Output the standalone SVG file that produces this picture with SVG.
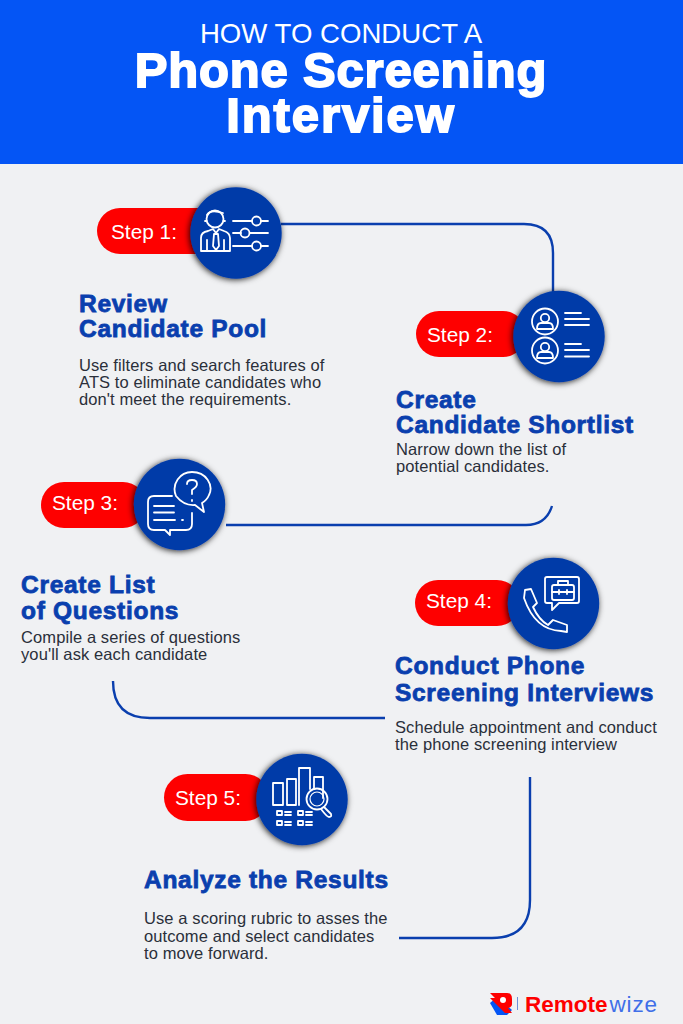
<svg xmlns="http://www.w3.org/2000/svg" width="683" height="1024" viewBox="0 0 683 1024">
<style>
text{font-family:"Liberation Sans",Arial,sans-serif}
.pill{fill:#fe0000}
.circ{fill:#033ba8;filter:url(#sh)}
.step{fill:#fff;font-size:20.800px}
.h{fill:#0a3fae;font-size:24.500px;font-weight:700;stroke:#0a3fae;stroke-width:.8px;letter-spacing:.7px}
.b{fill:#2a2f3a;font-size:16.500px;letter-spacing:.1px}
.ic{fill:none;stroke:#fff;stroke-width:1.800;stroke-linecap:round;stroke-linejoin:round}
.c{fill:none;stroke:#0a3fae;stroke-width:2.400}
.t{fill:#fff;text-anchor:middle}
</style>
<defs>
<filter id="sh" x="-30%" y="-30%" width="160%" height="160%"><feDropShadow dx="-1" dy="1" stdDeviation="3" flood-color="#000" flood-opacity=".85"/></filter>
</defs>
<rect width="683" height="1024" fill="#f0f1f3"/>
<rect width="683" height="164" fill="#0455f5"/>
<g id="title">
<text class="t" x="341" y="43" font-size="27.600">HOW TO CONDUCT A</text>
<text class="t" x="341" y="87" font-size="49" font-weight="700" stroke="#fff" stroke-width="1.800" letter-spacing=".8">Phone Screening</text>
<text class="t" x="341" y="132" font-size="49" font-weight="700" stroke="#fff" stroke-width="1.800" letter-spacing="1.900">Interview</text>
</g>
<g id="connectors">
<path class="c" d="M281 224H524Q553 224 553 253V292"/>
<path class="c" d="M226 525H526Q546 525 552 506"/>
<path class="c" d="M113 681Q113 718 150 718H385"/>
<path class="c" d="M530 777V900Q530 938 492 938H399"/>
</g>
<g id="step1">
<rect class="pill" x="97" y="208" width="130" height="46" rx="23"/>
<circle class="circ" cx="236" cy="233" r="45.700"/>
<text class="step" x="111" y="239">Step 1:</text>
<g class="ic">
<circle cx="215" cy="219" r="8.500"/><path d="M207 215Q210 209 223 213M206.500 221H205M223.500 221H225"/>
<path d="M201 251V238Q201 232 208 231L213 229L216 233L219 229L224 231Q230 233 230 238V251ZM207 240V251M224 240V251M214 234H218L219 246L216 250L213 246Z"/>
<path d="M233 221H252M261 221H268M233 233H241M250 233H268M233 246H252M261 246H268"/>
<circle cx="256.500" cy="221" r="4.500"/><circle cx="245" cy="233" r="4.500"/><circle cx="256.500" cy="246" r="4.500"/>
</g>
</g>
<g id="step2">
<rect class="pill" x="416" y="311" width="110" height="46" rx="23"/>
<circle class="circ" cx="559" cy="336.500" r="45.700"/>
<text class="step" x="427" y="342">Step 2:</text>
<g class="ic">
<circle cx="545" cy="321.500" r="13"/><circle cx="545" cy="318" r="4.200"/><path d="M537 329Q537 323 541 323H549Q553 323 553 329Z"/>
<circle cx="545" cy="350.500" r="13"/><circle cx="545" cy="347" r="4.200"/><path d="M537 358Q537 352 541 352H549Q553 352 553 358Z"/>
<path d="M565 313H581M565 319H589M565 325H589M565 344H581M565 350H589M565 356.500H589"/>
</g>
</g>
<g id="step3">
<rect class="pill" x="41" y="482" width="105" height="46" rx="23"/>
<circle class="circ" cx="179.500" cy="504.500" r="45.700"/>
<text class="step" x="52" y="510">Step 3:</text>
<g class="ic">
<path d="M176 496C171 484 180 472 192 472C206 472 214 485 209 495Q207 500 202 503L204 512L195 505Q184 506 176 496Z"/>
<path d="M187 484Q187 480 192 480Q197 480 197 484Q197 487 192 490V494M192 500V501"/>
<path d="M172 496H154Q148 496 148 502V524Q148 530 154 530H165L170 535V530H186Q192 530 192 524V513"/>
<path d="M154 506H174M154 512.500H174M154 520H175M182 520H183"/>
</g>
</g>
<g id="step4">
<rect class="pill" x="415" y="580" width="105" height="46" rx="23"/>
<circle class="circ" cx="553.500" cy="603.500" r="45.700"/>
<text class="step" x="426" y="608">Step 4:</text>
<g class="ic">
<path d="M547 577H577Q579 577 579 579V601Q579 603 577 603H559L552 610V603H547Q545 603 545 601V579Q545 577 547 577Z"/>
<rect x="552" y="585" width="22" height="15" rx="2"/><path d="M558 585V581H568V585M552 592H574M559 590V594M567 590V594"/>
<path d="M525 590L531 589L537 603L533 607Q539 620 548 625L553 620L567 625L567 632L561 631Q535 630 524 598Z"/>
</g>
</g>
<g id="step5">
<rect class="pill" x="164" y="774" width="105" height="47" rx="23.500"/>
<circle class="circ" cx="302" cy="799.500" r="45.700"/>
<text class="step" x="175" y="805">Step 5:</text>
<g class="ic">
<path d="M273 783H283V805H273ZM287 779H296V805H287ZM299 805V768H310V789M314 789V777H323V798"/>
<circle cx="317" cy="799" r="10.500"/><circle cx="317" cy="799" r="7" stroke-width="1.200"/><path d="M324 807L331 814Q332 817 329 817Q327 817 321 809"/>
<path d="M277 811H282V815H277ZM285 812H291M285 815H291M277 821H282V825H277ZM285 822H291M285 825H291M298 811H303V815H298ZM306 812H312M306 815H312M298 821H303V825H298ZM306 822H312M306 825H312"/>
</g>
</g>
<g id="text1">
<text class="h" x="79" y="311.500">Review</text>
<text class="h" x="79" y="337">Candidate Pool</text>
<text class="b" x="79" y="371">Use filters and search features of</text>
<text class="b" x="79" y="388">ATS to eliminate candidates who</text>
<text class="b" x="79" y="405">don't meet the requirements.</text>
</g>
<g id="text2">
<text class="h" x="396" y="408">Create</text>
<text class="h" x="396" y="433">Candidate Shortlist</text>
<text class="b" x="396" y="455">Narrow down the list of</text>
<text class="b" x="396" y="472">potential candidates.</text>
</g>
<g id="text3">
<text class="h" x="21" y="593">Create List</text>
<text class="h" x="21" y="619">of Questions</text>
<text class="b" x="21" y="643">Compile a series of questions</text>
<text class="b" x="21" y="660">you'll ask each candidate</text>
</g>
<g id="text4">
<text class="h" x="395" y="674">Conduct Phone</text>
<text class="h" x="395" y="701">Screening Interviews</text>
<text class="b" x="395" y="733">Schedule appointment and conduct</text>
<text class="b" x="395" y="750">the phone screening interview</text>
</g>
<g id="text5">
<text class="h" x="144" y="888">Analyze the Results</text>
<text class="b" x="144" y="924">Use a scoring rubric to asses the</text>
<text class="b" x="144" y="942">outcome and select candidates</text>
<text class="b" x="144" y="959">to move forward.</text>
</g>
<g id="logo">
<path d="M490 1003L497 997L512 1010L507 1015H497Z" fill="#0455f5"/>
<path d="M490 993H507Q512 993 512 999V1004Q512 1007 508 1008L512 1013L505 1013L490 998L495 998Z" fill="#fe0000"/>
<circle cx="503" cy="1000" r="3" fill="#fff"/>
<rect x="517" y="997" width="1" height="13" fill="#6f8fd8"/>
<text x="525" y="1012" font-size="22.500"><tspan fill="#fe0000" font-weight="700">Remote</tspan><tspan fill="#3f6fe8" dx="2" letter-spacing=".8">wize</tspan></text>
</g>
</svg>
